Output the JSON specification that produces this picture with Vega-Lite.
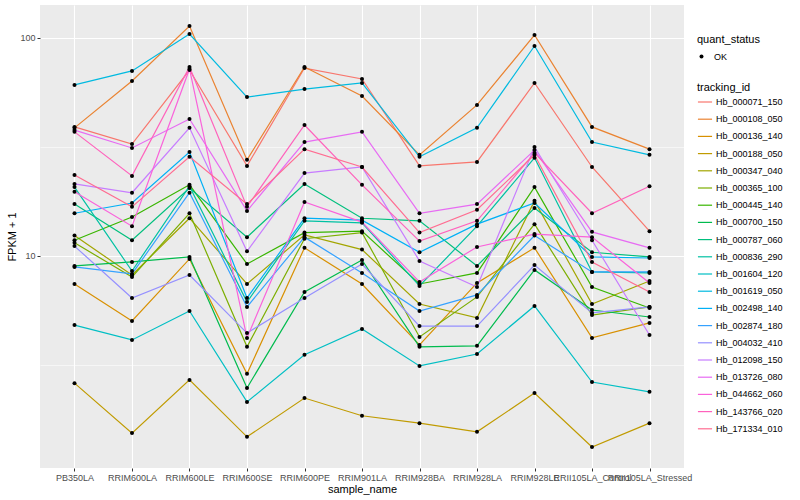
{
  "$schema": "https://vega.github.io/schema/vega-lite/v6.json",
  "autosize": {"type": "none"},
  "padding": {"left": 40, "top": 5, "right": 116, "bottom": 32},
  "width": 644,
  "height": 463,
  "config": {
    "font": "Liberation Sans",
    "view": {"fill": "#EBEBEB", "stroke": null},
    "axis": {"domain": false, "tickColor": "#333333", "tickSize": 3, "labelColor": "#4D4D4D", "labelFontSize": 9, "titleFontSize": 11, "titleFontWeight": "normal", "titleColor": "#000000", "gridColor": "#FFFFFF", "labelPadding": 2},
    "legend": {"titleFontSize": 11, "titleFontWeight": "normal", "labelFontSize": 9, "titleColor": "#000000", "labelColor": "#000000"}
  },
  "data": {"values": [
    {"tracking_id":"Hb_000071_150","sample_name":"PB350LA","fpkm":39.1,"quant_status":"OK"},
    {"tracking_id":"Hb_000071_150","sample_name":"RRIM600LA","fpkm":32.6,"quant_status":"OK"},
    {"tracking_id":"Hb_000071_150","sample_name":"RRIM600LE","fpkm":71.3,"quant_status":"OK"},
    {"tracking_id":"Hb_000071_150","sample_name":"RRIM600SE","fpkm":25.9,"quant_status":"OK"},
    {"tracking_id":"Hb_000071_150","sample_name":"RRIM600PE","fpkm":72.8,"quant_status":"OK"},
    {"tracking_id":"Hb_000071_150","sample_name":"RRIM901LA","fpkm":64.9,"quant_status":"OK"},
    {"tracking_id":"Hb_000071_150","sample_name":"RRIM928BA","fpkm":25.9,"quant_status":"OK"},
    {"tracking_id":"Hb_000071_150","sample_name":"RRIM928LA","fpkm":27.0,"quant_status":"OK"},
    {"tracking_id":"Hb_000071_150","sample_name":"RRIM928LE","fpkm":62.2,"quant_status":"OK"},
    {"tracking_id":"Hb_000071_150","sample_name":"RRII105LA_Control","fpkm":25.6,"quant_status":"OK"},
    {"tracking_id":"Hb_000071_150","sample_name":"RRII105LA_Stressed","fpkm":13.0,"quant_status":"OK"},
    {"tracking_id":"Hb_000108_050","sample_name":"PB350LA","fpkm":38.7,"quant_status":"OK"},
    {"tracking_id":"Hb_000108_050","sample_name":"RRIM600LA","fpkm":63.5,"quant_status":"OK"},
    {"tracking_id":"Hb_000108_050","sample_name":"RRIM600LE","fpkm":113.5,"quant_status":"OK"},
    {"tracking_id":"Hb_000108_050","sample_name":"RRIM600SE","fpkm":27.6,"quant_status":"OK"},
    {"tracking_id":"Hb_000108_050","sample_name":"RRIM600PE","fpkm":73.6,"quant_status":"OK"},
    {"tracking_id":"Hb_000108_050","sample_name":"RRIM901LA","fpkm":54.2,"quant_status":"OK"},
    {"tracking_id":"Hb_000108_050","sample_name":"RRIM928BA","fpkm":29.1,"quant_status":"OK"},
    {"tracking_id":"Hb_000108_050","sample_name":"RRIM928LA","fpkm":49.3,"quant_status":"OK"},
    {"tracking_id":"Hb_000108_050","sample_name":"RRIM928LE","fpkm":103.2,"quant_status":"OK"},
    {"tracking_id":"Hb_000108_050","sample_name":"RRII105LA_Control","fpkm":39.1,"quant_status":"OK"},
    {"tracking_id":"Hb_000108_050","sample_name":"RRII105LA_Stressed","fpkm":30.9,"quant_status":"OK"},
    {"tracking_id":"Hb_000136_140","sample_name":"PB350LA","fpkm":7.44,"quant_status":"OK"},
    {"tracking_id":"Hb_000136_140","sample_name":"RRIM600LA","fpkm":5.03,"quant_status":"OK"},
    {"tracking_id":"Hb_000136_140","sample_name":"RRIM600LE","fpkm":9.69,"quant_status":"OK"},
    {"tracking_id":"Hb_000136_140","sample_name":"RRIM600SE","fpkm":2.88,"quant_status":"OK"},
    {"tracking_id":"Hb_000136_140","sample_name":"RRIM600PE","fpkm":10.9,"quant_status":"OK"},
    {"tracking_id":"Hb_000136_140","sample_name":"RRIM901LA","fpkm":7.44,"quant_status":"OK"},
    {"tracking_id":"Hb_000136_140","sample_name":"RRIM928BA","fpkm":3.91,"quant_status":"OK"},
    {"tracking_id":"Hb_000136_140","sample_name":"RRIM928LA","fpkm":7.52,"quant_status":"OK"},
    {"tracking_id":"Hb_000136_140","sample_name":"RRIM928LE","fpkm":10.9,"quant_status":"OK"},
    {"tracking_id":"Hb_000136_140","sample_name":"RRII105LA_Control","fpkm":4.21,"quant_status":"OK"},
    {"tracking_id":"Hb_000136_140","sample_name":"RRII105LA_Stressed","fpkm":4.93,"quant_status":"OK"},
    {"tracking_id":"Hb_000188_050","sample_name":"PB350LA","fpkm":2.61,"quant_status":"OK"},
    {"tracking_id":"Hb_000188_050","sample_name":"RRIM600LA","fpkm":1.54,"quant_status":"OK"},
    {"tracking_id":"Hb_000188_050","sample_name":"RRIM600LE","fpkm":2.70,"quant_status":"OK"},
    {"tracking_id":"Hb_000188_050","sample_name":"RRIM600SE","fpkm":1.48,"quant_status":"OK"},
    {"tracking_id":"Hb_000188_050","sample_name":"RRIM600PE","fpkm":2.23,"quant_status":"OK"},
    {"tracking_id":"Hb_000188_050","sample_name":"RRIM901LA","fpkm":1.85,"quant_status":"OK"},
    {"tracking_id":"Hb_000188_050","sample_name":"RRIM928BA","fpkm":1.71,"quant_status":"OK"},
    {"tracking_id":"Hb_000188_050","sample_name":"RRIM928LA","fpkm":1.56,"quant_status":"OK"},
    {"tracking_id":"Hb_000188_050","sample_name":"RRIM928LE","fpkm":2.35,"quant_status":"OK"},
    {"tracking_id":"Hb_000188_050","sample_name":"RRII105LA_Control","fpkm":1.33,"quant_status":"OK"},
    {"tracking_id":"Hb_000188_050","sample_name":"RRII105LA_Stressed","fpkm":1.71,"quant_status":"OK"},
    {"tracking_id":"Hb_000347_040","sample_name":"PB350LA","fpkm":12.4,"quant_status":"OK"},
    {"tracking_id":"Hb_000347_040","sample_name":"RRIM600LA","fpkm":8.18,"quant_status":"OK"},
    {"tracking_id":"Hb_000347_040","sample_name":"RRIM600LE","fpkm":14.9,"quant_status":"OK"},
    {"tracking_id":"Hb_000347_040","sample_name":"RRIM600SE","fpkm":7.44,"quant_status":"OK"},
    {"tracking_id":"Hb_000347_040","sample_name":"RRIM600PE","fpkm":12.5,"quant_status":"OK"},
    {"tracking_id":"Hb_000347_040","sample_name":"RRIM901LA","fpkm":10.7,"quant_status":"OK"},
    {"tracking_id":"Hb_000347_040","sample_name":"RRIM928BA","fpkm":6.02,"quant_status":"OK"},
    {"tracking_id":"Hb_000347_040","sample_name":"RRIM928LA","fpkm":5.20,"quant_status":"OK"},
    {"tracking_id":"Hb_000347_040","sample_name":"RRIM928LE","fpkm":17.9,"quant_status":"OK"},
    {"tracking_id":"Hb_000347_040","sample_name":"RRII105LA_Control","fpkm":6.02,"quant_status":"OK"},
    {"tracking_id":"Hb_000347_040","sample_name":"RRII105LA_Stressed","fpkm":7.68,"quant_status":"OK"},
    {"tracking_id":"Hb_000365_100","sample_name":"PB350LA","fpkm":11.5,"quant_status":"OK"},
    {"tracking_id":"Hb_000365_100","sample_name":"RRIM600LA","fpkm":8.01,"quant_status":"OK"},
    {"tracking_id":"Hb_000365_100","sample_name":"RRIM600LE","fpkm":15.7,"quant_status":"OK"},
    {"tracking_id":"Hb_000365_100","sample_name":"RRIM600SE","fpkm":3.83,"quant_status":"OK"},
    {"tracking_id":"Hb_000365_100","sample_name":"RRIM600PE","fpkm":12.0,"quant_status":"OK"},
    {"tracking_id":"Hb_000365_100","sample_name":"RRIM901LA","fpkm":12.8,"quant_status":"OK"},
    {"tracking_id":"Hb_000365_100","sample_name":"RRIM928BA","fpkm":4.25,"quant_status":"OK"},
    {"tracking_id":"Hb_000365_100","sample_name":"RRIM928LA","fpkm":6.49,"quant_status":"OK"},
    {"tracking_id":"Hb_000365_100","sample_name":"RRIM928LE","fpkm":14.0,"quant_status":"OK"},
    {"tracking_id":"Hb_000365_100","sample_name":"RRII105LA_Control","fpkm":5.36,"quant_status":"OK"},
    {"tracking_id":"Hb_000365_100","sample_name":"RRII105LA_Stressed","fpkm":5.84,"quant_status":"OK"},
    {"tracking_id":"Hb_000445_140","sample_name":"PB350LA","fpkm":11.8,"quant_status":"OK"},
    {"tracking_id":"Hb_000445_140","sample_name":"RRIM600LA","fpkm":15.1,"quant_status":"OK"},
    {"tracking_id":"Hb_000445_140","sample_name":"RRIM600LE","fpkm":21.2,"quant_status":"OK"},
    {"tracking_id":"Hb_000445_140","sample_name":"RRIM600SE","fpkm":9.19,"quant_status":"OK"},
    {"tracking_id":"Hb_000445_140","sample_name":"RRIM600PE","fpkm":12.8,"quant_status":"OK"},
    {"tracking_id":"Hb_000445_140","sample_name":"RRIM901LA","fpkm":13.0,"quant_status":"OK"},
    {"tracking_id":"Hb_000445_140","sample_name":"RRIM928BA","fpkm":7.44,"quant_status":"OK"},
    {"tracking_id":"Hb_000445_140","sample_name":"RRIM928LA","fpkm":8.36,"quant_status":"OK"},
    {"tracking_id":"Hb_000445_140","sample_name":"RRIM928LE","fpkm":20.7,"quant_status":"OK"},
    {"tracking_id":"Hb_000445_140","sample_name":"RRII105LA_Control","fpkm":7.21,"quant_status":"OK"},
    {"tracking_id":"Hb_000445_140","sample_name":"RRII105LA_Stressed","fpkm":5.77,"quant_status":"OK"},
    {"tracking_id":"Hb_000700_150","sample_name":"PB350LA","fpkm":9.00,"quant_status":"OK"},
    {"tracking_id":"Hb_000700_150","sample_name":"RRIM600LA","fpkm":9.39,"quant_status":"OK"},
    {"tracking_id":"Hb_000700_150","sample_name":"RRIM600LE","fpkm":9.90,"quant_status":"OK"},
    {"tracking_id":"Hb_000700_150","sample_name":"RRIM600SE","fpkm":2.48,"quant_status":"OK"},
    {"tracking_id":"Hb_000700_150","sample_name":"RRIM600PE","fpkm":6.84,"quant_status":"OK"},
    {"tracking_id":"Hb_000700_150","sample_name":"RRIM901LA","fpkm":9.59,"quant_status":"OK"},
    {"tracking_id":"Hb_000700_150","sample_name":"RRIM928BA","fpkm":3.83,"quant_status":"OK"},
    {"tracking_id":"Hb_000700_150","sample_name":"RRIM928LA","fpkm":3.87,"quant_status":"OK"},
    {"tracking_id":"Hb_000700_150","sample_name":"RRIM928LE","fpkm":8.63,"quant_status":"OK"},
    {"tracking_id":"Hb_000700_150","sample_name":"RRII105LA_Control","fpkm":5.65,"quant_status":"OK"},
    {"tracking_id":"Hb_000700_150","sample_name":"RRII105LA_Stressed","fpkm":5.25,"quant_status":"OK"},
    {"tracking_id":"Hb_000787_060","sample_name":"PB350LA","fpkm":17.3,"quant_status":"OK"},
    {"tracking_id":"Hb_000787_060","sample_name":"RRIM600LA","fpkm":11.8,"quant_status":"OK"},
    {"tracking_id":"Hb_000787_060","sample_name":"RRIM600LE","fpkm":20.5,"quant_status":"OK"},
    {"tracking_id":"Hb_000787_060","sample_name":"RRIM600SE","fpkm":12.2,"quant_status":"OK"},
    {"tracking_id":"Hb_000787_060","sample_name":"RRIM600PE","fpkm":21.4,"quant_status":"OK"},
    {"tracking_id":"Hb_000787_060","sample_name":"RRIM901LA","fpkm":14.9,"quant_status":"OK"},
    {"tracking_id":"Hb_000787_060","sample_name":"RRIM928BA","fpkm":14.5,"quant_status":"OK"},
    {"tracking_id":"Hb_000787_060","sample_name":"RRIM928LA","fpkm":9.00,"quant_status":"OK"},
    {"tracking_id":"Hb_000787_060","sample_name":"RRIM928LE","fpkm":16.6,"quant_status":"OK"},
    {"tracking_id":"Hb_000787_060","sample_name":"RRII105LA_Control","fpkm":10.4,"quant_status":"OK"},
    {"tracking_id":"Hb_000787_060","sample_name":"RRII105LA_Stressed","fpkm":9.90,"quant_status":"OK"},
    {"tracking_id":"Hb_000836_290","sample_name":"PB350LA","fpkm":20.7,"quant_status":"OK"},
    {"tracking_id":"Hb_000836_290","sample_name":"RRIM600LA","fpkm":8.53,"quant_status":"OK"},
    {"tracking_id":"Hb_000836_290","sample_name":"RRIM600LE","fpkm":20.9,"quant_status":"OK"},
    {"tracking_id":"Hb_000836_290","sample_name":"RRIM600SE","fpkm":6.15,"quant_status":"OK"},
    {"tracking_id":"Hb_000836_290","sample_name":"RRIM600PE","fpkm":14.5,"quant_status":"OK"},
    {"tracking_id":"Hb_000836_290","sample_name":"RRIM901LA","fpkm":14.2,"quant_status":"OK"},
    {"tracking_id":"Hb_000836_290","sample_name":"RRIM928BA","fpkm":7.29,"quant_status":"OK"},
    {"tracking_id":"Hb_000836_290","sample_name":"RRIM928LA","fpkm":13.7,"quant_status":"OK"},
    {"tracking_id":"Hb_000836_290","sample_name":"RRIM928LE","fpkm":28.2,"quant_status":"OK"},
    {"tracking_id":"Hb_000836_290","sample_name":"RRII105LA_Control","fpkm":8.45,"quant_status":"OK"},
    {"tracking_id":"Hb_000836_290","sample_name":"RRII105LA_Stressed","fpkm":8.36,"quant_status":"OK"},
    {"tracking_id":"Hb_001604_120","sample_name":"PB350LA","fpkm":4.82,"quant_status":"OK"},
    {"tracking_id":"Hb_001604_120","sample_name":"RRIM600LA","fpkm":4.12,"quant_status":"OK"},
    {"tracking_id":"Hb_001604_120","sample_name":"RRIM600LE","fpkm":5.59,"quant_status":"OK"},
    {"tracking_id":"Hb_001604_120","sample_name":"RRIM600SE","fpkm":2.14,"quant_status":"OK"},
    {"tracking_id":"Hb_001604_120","sample_name":"RRIM600PE","fpkm":3.52,"quant_status":"OK"},
    {"tracking_id":"Hb_001604_120","sample_name":"RRIM901LA","fpkm":4.63,"quant_status":"OK"},
    {"tracking_id":"Hb_001604_120","sample_name":"RRIM928BA","fpkm":3.13,"quant_status":"OK"},
    {"tracking_id":"Hb_001604_120","sample_name":"RRIM928LA","fpkm":3.55,"quant_status":"OK"},
    {"tracking_id":"Hb_001604_120","sample_name":"RRIM928LE","fpkm":5.90,"quant_status":"OK"},
    {"tracking_id":"Hb_001604_120","sample_name":"RRII105LA_Control","fpkm":2.64,"quant_status":"OK"},
    {"tracking_id":"Hb_001604_120","sample_name":"RRII105LA_Stressed","fpkm":2.38,"quant_status":"OK"},
    {"tracking_id":"Hb_001619_050","sample_name":"PB350LA","fpkm":60.9,"quant_status":"OK"},
    {"tracking_id":"Hb_001619_050","sample_name":"RRIM600LA","fpkm":70.6,"quant_status":"OK"},
    {"tracking_id":"Hb_001619_050","sample_name":"RRIM600LE","fpkm":104.3,"quant_status":"OK"},
    {"tracking_id":"Hb_001619_050","sample_name":"RRIM600SE","fpkm":53.6,"quant_status":"OK"},
    {"tracking_id":"Hb_001619_050","sample_name":"RRIM600PE","fpkm":58.3,"quant_status":"OK"},
    {"tracking_id":"Hb_001619_050","sample_name":"RRIM901LA","fpkm":62.2,"quant_status":"OK"},
    {"tracking_id":"Hb_001619_050","sample_name":"RRIM928BA","fpkm":28.5,"quant_status":"OK"},
    {"tracking_id":"Hb_001619_050","sample_name":"RRIM928LA","fpkm":38.7,"quant_status":"OK"},
    {"tracking_id":"Hb_001619_050","sample_name":"RRIM928LE","fpkm":91.9,"quant_status":"OK"},
    {"tracking_id":"Hb_001619_050","sample_name":"RRII105LA_Control","fpkm":33.3,"quant_status":"OK"},
    {"tracking_id":"Hb_001619_050","sample_name":"RRII105LA_Stressed","fpkm":29.1,"quant_status":"OK"},
    {"tracking_id":"Hb_002498_140","sample_name":"PB350LA","fpkm":15.7,"quant_status":"OK"},
    {"tracking_id":"Hb_002498_140","sample_name":"RRIM600LA","fpkm":17.5,"quant_status":"OK"},
    {"tracking_id":"Hb_002498_140","sample_name":"RRIM600LE","fpkm":30.0,"quant_status":"OK"},
    {"tracking_id":"Hb_002498_140","sample_name":"RRIM600SE","fpkm":6.42,"quant_status":"OK"},
    {"tracking_id":"Hb_002498_140","sample_name":"RRIM600PE","fpkm":14.9,"quant_status":"OK"},
    {"tracking_id":"Hb_002498_140","sample_name":"RRIM901LA","fpkm":14.6,"quant_status":"OK"},
    {"tracking_id":"Hb_002498_140","sample_name":"RRIM928BA","fpkm":10.4,"quant_status":"OK"},
    {"tracking_id":"Hb_002498_140","sample_name":"RRIM928LA","fpkm":14.0,"quant_status":"OK"},
    {"tracking_id":"Hb_002498_140","sample_name":"RRIM928LE","fpkm":17.5,"quant_status":"OK"},
    {"tracking_id":"Hb_002498_140","sample_name":"RRII105LA_Control","fpkm":9.90,"quant_status":"OK"},
    {"tracking_id":"Hb_002498_140","sample_name":"RRII105LA_Stressed","fpkm":9.79,"quant_status":"OK"},
    {"tracking_id":"Hb_002874_180","sample_name":"PB350LA","fpkm":8.91,"quant_status":"OK"},
    {"tracking_id":"Hb_002874_180","sample_name":"RRIM600LA","fpkm":8.27,"quant_status":"OK"},
    {"tracking_id":"Hb_002874_180","sample_name":"RRIM600LE","fpkm":19.5,"quant_status":"OK"},
    {"tracking_id":"Hb_002874_180","sample_name":"RRIM600SE","fpkm":5.84,"quant_status":"OK"},
    {"tracking_id":"Hb_002874_180","sample_name":"RRIM600PE","fpkm":12.2,"quant_status":"OK"},
    {"tracking_id":"Hb_002874_180","sample_name":"RRIM901LA","fpkm":8.36,"quant_status":"OK"},
    {"tracking_id":"Hb_002874_180","sample_name":"RRIM928BA","fpkm":5.59,"quant_status":"OK"},
    {"tracking_id":"Hb_002874_180","sample_name":"RRIM928LA","fpkm":6.63,"quant_status":"OK"},
    {"tracking_id":"Hb_002874_180","sample_name":"RRIM928LE","fpkm":12.4,"quant_status":"OK"},
    {"tracking_id":"Hb_002874_180","sample_name":"RRII105LA_Control","fpkm":8.45,"quant_status":"OK"},
    {"tracking_id":"Hb_002874_180","sample_name":"RRII105LA_Stressed","fpkm":8.45,"quant_status":"OK"},
    {"tracking_id":"Hb_004032_410","sample_name":"PB350LA","fpkm":11.1,"quant_status":"OK"},
    {"tracking_id":"Hb_004032_410","sample_name":"RRIM600LA","fpkm":6.42,"quant_status":"OK"},
    {"tracking_id":"Hb_004032_410","sample_name":"RRIM600LE","fpkm":8.18,"quant_status":"OK"},
    {"tracking_id":"Hb_004032_410","sample_name":"RRIM600SE","fpkm":4.43,"quant_status":"OK"},
    {"tracking_id":"Hb_004032_410","sample_name":"RRIM600PE","fpkm":6.42,"quant_status":"OK"},
    {"tracking_id":"Hb_004032_410","sample_name":"RRIM901LA","fpkm":9.19,"quant_status":"OK"},
    {"tracking_id":"Hb_004032_410","sample_name":"RRIM928BA","fpkm":4.77,"quant_status":"OK"},
    {"tracking_id":"Hb_004032_410","sample_name":"RRIM928LA","fpkm":4.77,"quant_status":"OK"},
    {"tracking_id":"Hb_004032_410","sample_name":"RRIM928LE","fpkm":9.09,"quant_status":"OK"},
    {"tracking_id":"Hb_004032_410","sample_name":"RRII105LA_Control","fpkm":5.48,"quant_status":"OK"},
    {"tracking_id":"Hb_004032_410","sample_name":"RRII105LA_Stressed","fpkm":5.84,"quant_status":"OK"},
    {"tracking_id":"Hb_012098_150","sample_name":"PB350LA","fpkm":21.4,"quant_status":"OK"},
    {"tracking_id":"Hb_012098_150","sample_name":"RRIM600LA","fpkm":19.5,"quant_status":"OK"},
    {"tracking_id":"Hb_012098_150","sample_name":"RRIM600LE","fpkm":38.7,"quant_status":"OK"},
    {"tracking_id":"Hb_012098_150","sample_name":"RRIM600SE","fpkm":10.5,"quant_status":"OK"},
    {"tracking_id":"Hb_012098_150","sample_name":"RRIM600PE","fpkm":24.0,"quant_status":"OK"},
    {"tracking_id":"Hb_012098_150","sample_name":"RRIM901LA","fpkm":25.6,"quant_status":"OK"},
    {"tracking_id":"Hb_012098_150","sample_name":"RRIM928BA","fpkm":9.49,"quant_status":"OK"},
    {"tracking_id":"Hb_012098_150","sample_name":"RRIM928LA","fpkm":7.21,"quant_status":"OK"},
    {"tracking_id":"Hb_012098_150","sample_name":"RRIM928LE","fpkm":31.6,"quant_status":"OK"},
    {"tracking_id":"Hb_012098_150","sample_name":"RRII105LA_Control","fpkm":11.8,"quant_status":"OK"},
    {"tracking_id":"Hb_012098_150","sample_name":"RRII105LA_Stressed","fpkm":4.34,"quant_status":"OK"},
    {"tracking_id":"Hb_013726_080","sample_name":"PB350LA","fpkm":37.8,"quant_status":"OK"},
    {"tracking_id":"Hb_013726_080","sample_name":"RRIM600LA","fpkm":31.3,"quant_status":"OK"},
    {"tracking_id":"Hb_013726_080","sample_name":"RRIM600LE","fpkm":42.5,"quant_status":"OK"},
    {"tracking_id":"Hb_013726_080","sample_name":"RRIM600SE","fpkm":16.1,"quant_status":"OK"},
    {"tracking_id":"Hb_013726_080","sample_name":"RRIM600PE","fpkm":33.3,"quant_status":"OK"},
    {"tracking_id":"Hb_013726_080","sample_name":"RRIM901LA","fpkm":37.1,"quant_status":"OK"},
    {"tracking_id":"Hb_013726_080","sample_name":"RRIM928BA","fpkm":15.7,"quant_status":"OK"},
    {"tracking_id":"Hb_013726_080","sample_name":"RRIM928LA","fpkm":17.3,"quant_status":"OK"},
    {"tracking_id":"Hb_013726_080","sample_name":"RRIM928LE","fpkm":30.6,"quant_status":"OK"},
    {"tracking_id":"Hb_013726_080","sample_name":"RRII105LA_Control","fpkm":12.9,"quant_status":"OK"},
    {"tracking_id":"Hb_013726_080","sample_name":"RRII105LA_Stressed","fpkm":10.9,"quant_status":"OK"},
    {"tracking_id":"Hb_044662_060","sample_name":"PB350LA","fpkm":19.7,"quant_status":"OK"},
    {"tracking_id":"Hb_044662_060","sample_name":"RRIM600LA","fpkm":13.7,"quant_status":"OK"},
    {"tracking_id":"Hb_044662_060","sample_name":"RRIM600LE","fpkm":72.1,"quant_status":"OK"},
    {"tracking_id":"Hb_044662_060","sample_name":"RRIM600SE","fpkm":4.21,"quant_status":"OK"},
    {"tracking_id":"Hb_044662_060","sample_name":"RRIM600PE","fpkm":17.7,"quant_status":"OK"},
    {"tracking_id":"Hb_044662_060","sample_name":"RRIM901LA","fpkm":14.3,"quant_status":"OK"},
    {"tracking_id":"Hb_044662_060","sample_name":"RRIM928BA","fpkm":7.60,"quant_status":"OK"},
    {"tracking_id":"Hb_044662_060","sample_name":"RRIM928LA","fpkm":11.0,"quant_status":"OK"},
    {"tracking_id":"Hb_044662_060","sample_name":"RRIM928LE","fpkm":12.6,"quant_status":"OK"},
    {"tracking_id":"Hb_044662_060","sample_name":"RRII105LA_Control","fpkm":12.2,"quant_status":"OK"},
    {"tracking_id":"Hb_044662_060","sample_name":"RRII105LA_Stressed","fpkm":7.52,"quant_status":"OK"},
    {"tracking_id":"Hb_143766_020","sample_name":"PB350LA","fpkm":37.1,"quant_status":"OK"},
    {"tracking_id":"Hb_143766_020","sample_name":"RRIM600LA","fpkm":23.3,"quant_status":"OK"},
    {"tracking_id":"Hb_143766_020","sample_name":"RRIM600LE","fpkm":73.6,"quant_status":"OK"},
    {"tracking_id":"Hb_143766_020","sample_name":"RRIM600SE","fpkm":16.8,"quant_status":"OK"},
    {"tracking_id":"Hb_143766_020","sample_name":"RRIM600PE","fpkm":39.9,"quant_status":"OK"},
    {"tracking_id":"Hb_143766_020","sample_name":"RRIM901LA","fpkm":21.2,"quant_status":"OK"},
    {"tracking_id":"Hb_143766_020","sample_name":"RRIM928BA","fpkm":11.7,"quant_status":"OK"},
    {"tracking_id":"Hb_143766_020","sample_name":"RRIM928LA","fpkm":14.5,"quant_status":"OK"},
    {"tracking_id":"Hb_143766_020","sample_name":"RRIM928LE","fpkm":29.7,"quant_status":"OK"},
    {"tracking_id":"Hb_143766_020","sample_name":"RRII105LA_Control","fpkm":15.7,"quant_status":"OK"},
    {"tracking_id":"Hb_143766_020","sample_name":"RRII105LA_Stressed","fpkm":20.9,"quant_status":"OK"},
    {"tracking_id":"Hb_171334_010","sample_name":"PB350LA","fpkm":23.5,"quant_status":"OK"},
    {"tracking_id":"Hb_171334_010","sample_name":"RRIM600LA","fpkm":16.8,"quant_status":"OK"},
    {"tracking_id":"Hb_171334_010","sample_name":"RRIM600LE","fpkm":28.5,"quant_status":"OK"},
    {"tracking_id":"Hb_171334_010","sample_name":"RRIM600SE","fpkm":17.3,"quant_status":"OK"},
    {"tracking_id":"Hb_171334_010","sample_name":"RRIM600PE","fpkm":30.9,"quant_status":"OK"},
    {"tracking_id":"Hb_171334_010","sample_name":"RRIM901LA","fpkm":25.6,"quant_status":"OK"},
    {"tracking_id":"Hb_171334_010","sample_name":"RRIM928BA","fpkm":12.8,"quant_status":"OK"},
    {"tracking_id":"Hb_171334_010","sample_name":"RRIM928LA","fpkm":16.3,"quant_status":"OK"},
    {"tracking_id":"Hb_171334_010","sample_name":"RRIM928LE","fpkm":29.1,"quant_status":"OK"},
    {"tracking_id":"Hb_171334_010","sample_name":"RRII105LA_Control","fpkm":9.39,"quant_status":"OK"},
    {"tracking_id":"Hb_171334_010","sample_name":"RRII105LA_Stressed","fpkm":6.84,"quant_status":"OK"}
  ]},
  "encoding": {
    "x": {
      "field": "sample_name", "type": "nominal",
      "sort": ["PB350LA","RRIM600LA","RRIM600LE","RRIM600SE","RRIM600PE","RRIM901LA","RRIM928BA","RRIM928LA","RRIM928LE","RRII105LA_Control","RRII105LA_Stressed"],
      "scale": {"type": "point", "padding": 0.6},
      "axis": {"title": "sample_name", "labelAngle": 0, "labelOverlap": false, "labelBound": false, "grid": true, "gridWidth": 1.1, "titlePadding": 1}
    },
    "y": {
      "field": "fpkm", "type": "quantitative",
      "scale": {"type": "log", "domain": [1.065, 141.7], "nice": false, "zero": false},
      "axis": {
        "title": "FPKM + 1",
        "values": [3.1623, 10, 31.623, 100],
        "labelExpr": "(datum.value > 9 && datum.value < 11) || datum.value > 90 ? datum.label : ''",
        "gridWidth": {"condition": {"test": "datum.value < 5 || (datum.value > 20 && datum.value < 50)", "value": 0.55}, "value": 1.1},
        "tickOpacity": {"condition": {"test": "datum.value < 5 || (datum.value > 20 && datum.value < 50)", "value": 0}, "value": 1},
        "titlePadding": 2
      }
    }
  },
  "layer": [
    {
      "mark": {"type": "line", "strokeWidth": 1.2},
      "encoding": {
        "color": {
          "field": "tracking_id", "type": "nominal",
          "scale": {
            "domain": ["Hb_000071_150","Hb_000108_050","Hb_000136_140","Hb_000188_050","Hb_000347_040","Hb_000365_100","Hb_000445_140","Hb_000700_150","Hb_000787_060","Hb_000836_290","Hb_001604_120","Hb_001619_050","Hb_002498_140","Hb_002874_180","Hb_004032_410","Hb_012098_150","Hb_013726_080","Hb_044662_060","Hb_143766_020","Hb_171334_010"],
            "range": ["#F8766D","#EA8331","#D89000","#C09B00","#A3A500","#7CAE00","#39B600","#00BB4E","#00BF7D","#00C1A3","#00BFC4","#00BAE0","#00B0F6","#35A2FF","#9590FF","#C77CFF","#E76BF3","#FA62DB","#FF62BC","#FF6C91"]
          },
          "legend": {"title": "tracking_id", "orient": "none", "legendX": 657, "legendY": 77, "symbolType": "stroke", "symbolSize": 200, "symbolStrokeWidth": 1.2, "rowPadding": 4.2, "titlePadding": 1, "labelOffset": 3}
        }
      }
    },
    {
      "mark": {"type": "point", "filled": true, "color": "black", "size": 16, "opacity": 1},
      "encoding": {
        "shape": {
          "field": "quant_status", "type": "nominal",
          "scale": {"domain": ["OK"], "range": ["circle"]},
          "legend": {"title": "quant_status", "orient": "none", "legendX": 657, "legendY": 29, "symbolSize": 16, "symbolFillColor": "black", "symbolStrokeColor": "black", "titlePadding": 7, "labelOffset": 8}
        }
      }
    }
  ]
}
